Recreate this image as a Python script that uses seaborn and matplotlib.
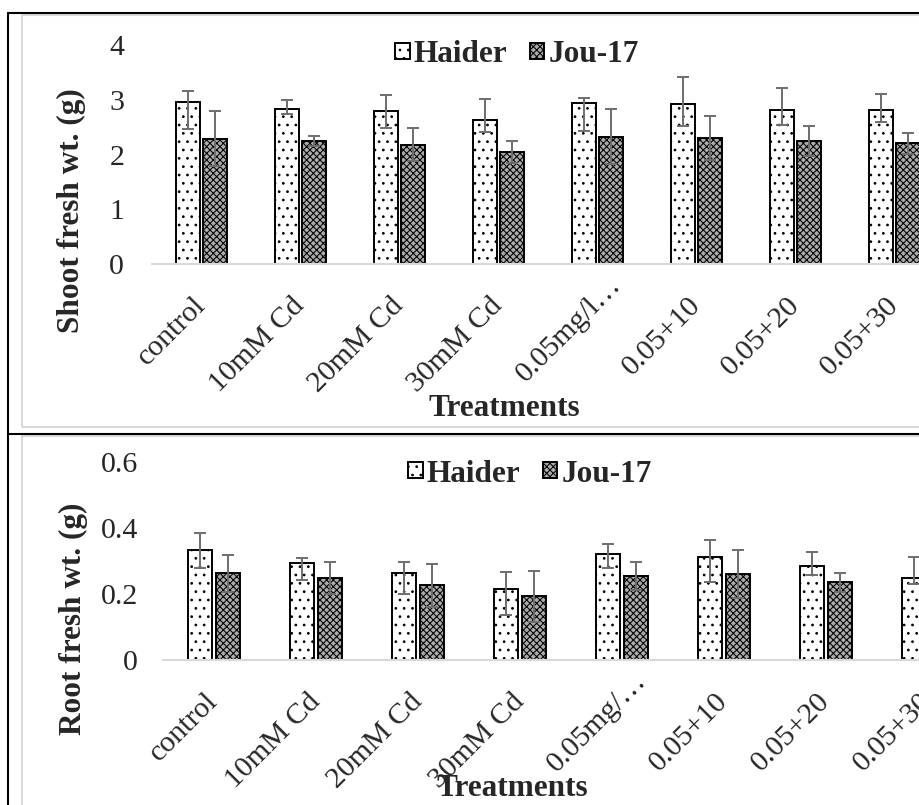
import matplotlib
matplotlib.use('Agg')
import matplotlib.pyplot as plt
from matplotlib.lines import Line2D
from matplotlib.patches import Rectangle
from matplotlib.transforms import ScaledTranslation
import pandas as pd
import seaborn as sns

# data
varieties = ['Haider', 'Jou-17']
labels_shoot = ['control', '10mM Cd', '20mM Cd', '30mM Cd', '0.05mg/l…', '0.05+10', '0.05+20', '0.05+30']
labels_root = ['control', '10mM Cd', '20mM Cd', '30mM Cd', '0.05mg/…', '0.05+10', '0.05+20', '0.05+30']

shoot_haider = [2.96, 2.84, 2.79, 2.63, 2.94, 2.92, 2.82, 2.81]
shoot_haider_lo = [0.50, 0.10, 0.30, 0.22, 0.51, 0.40, 0.28, 0.21]
shoot_haider_hi = [0.20, 0.15, 0.29, 0.39, 0.10, 0.50, 0.40, 0.29]
shoot_jou = [2.29, 2.24, 2.18, 2.05, 2.32, 2.31, 2.24, 2.21]
shoot_jou_lo = [0.50, 0.09, 0.29, 0.20, 0.50, 0.41, 0.27, 0.21]
shoot_jou_hi = [0.51, 0.10, 0.30, 0.20, 0.51, 0.40, 0.28, 0.19]

root_haider = [0.333, 0.295, 0.265, 0.214, 0.321, 0.313, 0.286, 0.250]
root_haider_lo = [0.055, 0.053, 0.065, 0.078, 0.043, 0.076, 0.028, 0.021]
root_haider_hi = [0.051, 0.013, 0.031, 0.054, 0.031, 0.051, 0.042, 0.063]
root_jou = [0.265, 0.249, 0.227, 0.194, 0.256, 0.261, 0.235, 0.22]
root_jou_lo = [0.058, 0.049, 0.065, 0.078, 0.044, 0.074, 0.028, 0.03]
root_jou_hi = [0.053, 0.049, 0.063, 0.077, 0.042, 0.072, 0.028, 0.03]

sns.set_style('white')
plt.rcParams['font.family'] = ['Liberation Serif', 'DejaVu Sans']
plt.rcParams['hatch.linewidth'] = 0.75

W, H = 919, 805
fig = plt.figure(figsize=(W / 100, H / 100), dpi=100)


def fx(x):
    return x / W


def fy(y):
    return 1 - y / H


def panel(ax, labels, haider, h_lo, h_hi, jou, j_lo, j_hi, ymax, yticks, yticklabels,
          ylabel, ylabel_xy, xlabel_xy, legend_xy, ypad):
    df = pd.DataFrame({
        'Treatment': labels * 2,
        'Variety': ['Haider'] * len(labels) + ['Jou-17'] * len(labels),
        'value': haider + jou,
    })
    sns.barplot(data=df, x='Treatment', y='value', hue='Variety', order=labels,
                hue_order=varieties, palette=['white', '#ababab'], edgecolor='black',
                linewidth=1.4, width=0.54, gap=0.12, errorbar=None, legend=False,
                saturation=1, ax=ax)
    bar_conts = list(ax.containers)
    for cont, hatch, vals, lo, hi in zip(bar_conts, ['..', 'xxxxx'],
                                         [haider, jou], [h_lo, j_lo], [h_hi, j_hi]):
        xs = []
        for bar in cont.patches:
            bar.set_hatch(hatch)
            xs.append(bar.get_x() + bar.get_width() / 2)
        ax.errorbar(xs, vals, yerr=[lo, hi], fmt='none', ecolor='#6e6e6e',
                    elinewidth=1.4, capsize=4.3, capthick=1.4, zorder=3)

    ax.set_xlim(-0.5, len(labels) - 0.5)
    ax.set_ylim(0, ymax)
    ax.set_yticks(yticks)
    ax.set_yticklabels(yticklabels)
    ax.tick_params(axis='y', length=0, pad=ypad, labelsize=21.5)
    ax.tick_params(axis='x', length=0, pad=27, labelsize=21.5)
    for lbl in ax.get_xticklabels():
        lbl.set_rotation(45)
        lbl.set_ha('right')
        lbl.set_va('center')
        lbl.set_rotation_mode('anchor')
        if lbl.get_text().endswith('…'):
            # truncated label: the ellipsis runs past the tick as in the original
            lbl.set_transform(lbl.get_transform() +
                              ScaledTranslation(0.2, 0.2, fig.dpi_scale_trans))
    sns.despine(ax=ax, left=True)
    ax.spines['bottom'].set_color('#d9d9d9')
    ax.spines['bottom'].set_linewidth(1.5)
    ax.patch.set_alpha(0)

    ax.set_xlabel('Treatments', fontsize=22.5, fontweight='bold', va='center')
    ax.xaxis.set_label_coords(*xlabel_xy)
    ax.set_ylabel(ylabel, fontsize=22.5, fontweight='bold', va='center')
    ax.yaxis.set_label_coords(*ylabel_xy)

    ax.legend(handles=[c.patches[0] for c in bar_conts], labels=varieties,
              loc='center', bbox_to_anchor=legend_xy, bbox_transform=fig.transFigure,
              ncol=2, frameon=False, prop={'weight': 'bold', 'size': 22.5},
              handlelength=0.45, handleheight=0.42, handletextpad=0.12,
              columnspacing=0.75, borderpad=0, borderaxespad=0)


# frames: table cell borders and light chart-area borders
fig.add_artist(Rectangle((fx(22), fy(427)), fx(930) - fx(22), fy(15) - fy(427),
                         transform=fig.transFigure, fill=False, edgecolor='#d9d9d9', lw=1.5))
fig.add_artist(Rectangle((fx(22), fy(815)), fx(930) - fx(22), fy(436) - fy(815),
                         transform=fig.transFigure, fill=False, edgecolor='#d9d9d9', lw=1.5))
for xs, ys in [((8, 919), (13, 13)), ((8, 8), (13, 805)), ((8, 919), (434, 434))]:
    fig.add_artist(Line2D([fx(x) for x in xs], [fy(y) for y in ys],
                          transform=fig.transFigure, color='black', lw=1.5))

ax1 = fig.add_axes([fx(152), fy(264), 792 / W, 219 / H])
panel(ax1, labels_shoot, shoot_haider, shoot_haider_lo, shoot_haider_hi,
      shoot_jou, shoot_jou_lo, shoot_jou_hi, 4, [0, 1, 2, 3, 4], ['0', '1', '2', '3', '4'],
      'Shoot fresh wt. (g)', ((71.5 - 152) / 792, (264 - 211) / 219),
      ((504 - 152) / 792, (264 - 408) / 219), (fx(517), fy(55)), 20)

ax2 = fig.add_axes([fx(163), fy(660), 816 / W, 198 / H])
panel(ax2, labels_root, root_haider, root_haider_lo, root_haider_hi,
      root_jou, root_jou_lo, root_jou_hi, 0.6, [0, 0.2, 0.4, 0.6], ['0', '0.2', '0.4', '0.6'],
      'Root fresh wt. (g)', ((73 - 163) / 816, (660 - 618.5) / 198),
      ((512 - 163) / 816, (660 - 788) / 198), (fx(530), fy(474)), 18)

fig.savefig('out.png', dpi=100)
